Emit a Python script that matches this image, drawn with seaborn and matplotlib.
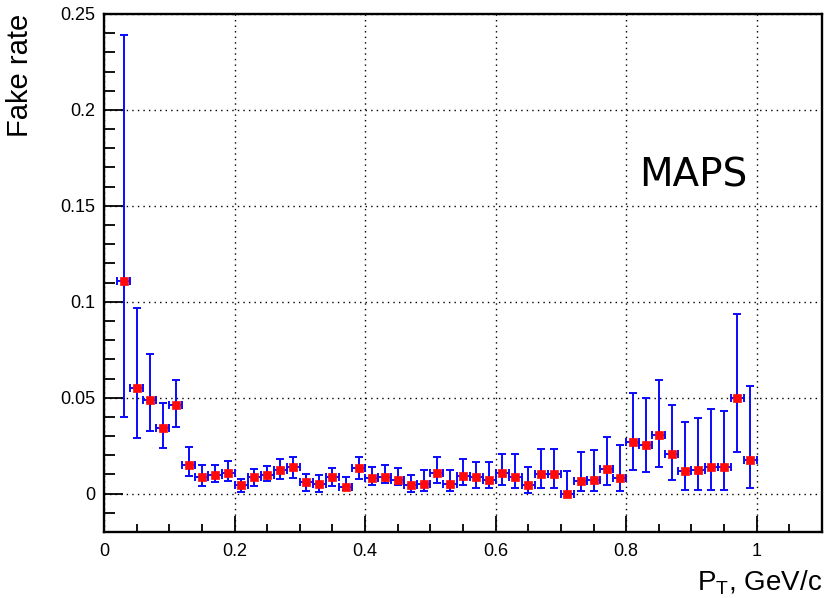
import numpy as np
import pandas as pd
import matplotlib
matplotlib.use("Agg")
import matplotlib.pyplot as plt
from matplotlib.ticker import MultipleLocator
import seaborn as sns

# Bin centres (GeV/c) and half-width of each pT bin
pt = [0.03, 0.05, 0.07, 0.09, 0.11, 0.13, 0.15, 0.17, 0.19, 0.21,
      0.23, 0.25, 0.27, 0.29, 0.31, 0.33, 0.35, 0.37, 0.39, 0.41,
      0.43, 0.45, 0.47, 0.49, 0.51, 0.53, 0.55, 0.57, 0.59, 0.61,
      0.63, 0.65, 0.67, 0.69, 0.71, 0.73, 0.75, 0.77, 0.79, 0.81,
      0.83, 0.85, 0.87, 0.89, 0.91, 0.93, 0.95, 0.97, 0.99]
pt_half_width = 0.01

# Fake rate per bin
fake_rate = [0.111, 0.055, 0.049, 0.034, 0.046, 0.015, 0.0087, 0.0095, 0.011, 0.0043,
             0.0087, 0.0096, 0.0125, 0.0139, 0.0059, 0.0052, 0.0087, 0.0035, 0.0132, 0.0080,
             0.0087, 0.0073, 0.0043, 0.0052, 0.0108, 0.0052, 0.0094, 0.0087, 0.0073, 0.0108,
             0.0087, 0.0043, 0.0104, 0.0104, 0.0, 0.0064, 0.0073, 0.013, 0.008, 0.027,
             0.0254, 0.0304, 0.0205, 0.0116, 0.0122, 0.0137, 0.0137, 0.0496, 0.0176]

# Upper and lower ends of the uncertainty interval
err_high = [0.239, 0.097, 0.073, 0.047, 0.059, 0.0244, 0.0151, 0.0151, 0.0168, 0.0078,
            0.013, 0.0146, 0.018, 0.0193, 0.0102, 0.0097, 0.0136, 0.0087, 0.0193, 0.014,
            0.0148, 0.0136, 0.0097, 0.0125, 0.0189, 0.0125, 0.018, 0.0165, 0.0167, 0.0209,
            0.0205, 0.014, 0.0233, 0.0233, 0.0117, 0.0217, 0.0228, 0.0294, 0.0254, 0.0522,
            0.0496, 0.0591, 0.0464, 0.0372, 0.0395, 0.044, 0.0433, 0.0938, 0.0562]
err_low = [0.040, 0.029, 0.0324, 0.0238, 0.0348, 0.0094, 0.0042, 0.0059, 0.0064, 0.001,
           0.004, 0.0068, 0.0077, 0.008, 0.0016, 0.0009, 0.0038, 0.0017, 0.0077, 0.0043,
           0.0054, 0.0043, 0.0009, 0.0012, 0.0054, 0.0012, 0.0043, 0.0028, 0.0028, 0.0043,
           0.003, 0.0002, 0.003, 0.003, 0.0, 0.0012, 0.0016, 0.0043, 0.0016, 0.0122,
           0.0115, 0.0137, 0.0073, 0.0021, 0.002, 0.002, 0.002, 0.0219, 0.0028]

df = pd.DataFrame({"pt": pt, "rate": fake_rate, "hi": err_high, "lo": err_low})

sns.set_style("ticks")
plt.rcParams["font.family"] = ["Liberation Sans", "DejaVu Sans"]
plt.rcParams["text.color"] = "black"
plt.rcParams["axes.labelcolor"] = "black"

fig = plt.figure(figsize=(8.27, 5.98), dpi=100)
ax = fig.add_axes([0.1258, 0.1104, 0.8682, 0.8662])

yerr = np.vstack([df["rate"] - df["lo"], df["hi"] - df["rate"]])
ax.errorbar(df["pt"], df["rate"], xerr=pt_half_width, yerr=yerr,
            fmt="none", ecolor="#0a0aff", elinewidth=1.4, capsize=2.6,
            capthick=1.4, zorder=3)
sns.scatterplot(data=df, x="pt", y="rate", marker="s", color="#ff0a0a",
                s=32, edgecolor="#ff0a0a", linewidth=0.5, zorder=4, ax=ax)

ax.set_xlim(0, 1.1)
ax.set_ylim(-0.02, 0.25)

ax.xaxis.set_minor_locator(MultipleLocator(0.05))
ax.yaxis.set_minor_locator(MultipleLocator(0.01))
ax.set_xticks([0, 0.2, 0.4, 0.6, 0.8, 1.0])
ax.set_xticklabels(["0", "0.2", "0.4", "0.6", "0.8", "1"])
ax.set_yticks([0, 0.05, 0.1, 0.15, 0.2, 0.25])
ax.set_yticklabels(["0", "0.05", "0.1", "0.15", "0.2", "0.25"])

ax.tick_params(axis="both", which="both", direction="in", colors="black",
               labelsize=13, width=1.3, top=False, right=False)
ax.tick_params(axis="x", which="major", length=11.5, pad=8)
ax.tick_params(axis="x", which="minor", length=6)
ax.tick_params(axis="y", which="major", length=14, pad=6)
ax.tick_params(axis="y", which="minor", length=8)

for side in ax.spines.values():
    side.set_linewidth(1.7)
    side.set_color("black")
    side.set_visible(True)

ax.grid(True, which="major", color="black", linestyle=(0, (1, 3)), linewidth=1.0)
ax.set_axisbelow(True)

ax.set_xlabel(r"P$_\mathregular{T}$, GeV/c", fontsize=20, loc="right", labelpad=6)
ax.set_ylabel("Fake rate", fontsize=21, loc="top", labelpad=19)

ax.text(0.82, 0.160, "MAPS", fontsize=28, family="DejaVu Sans",
        ha="left", va="baseline")

fig.savefig("out.png", dpi=100)
